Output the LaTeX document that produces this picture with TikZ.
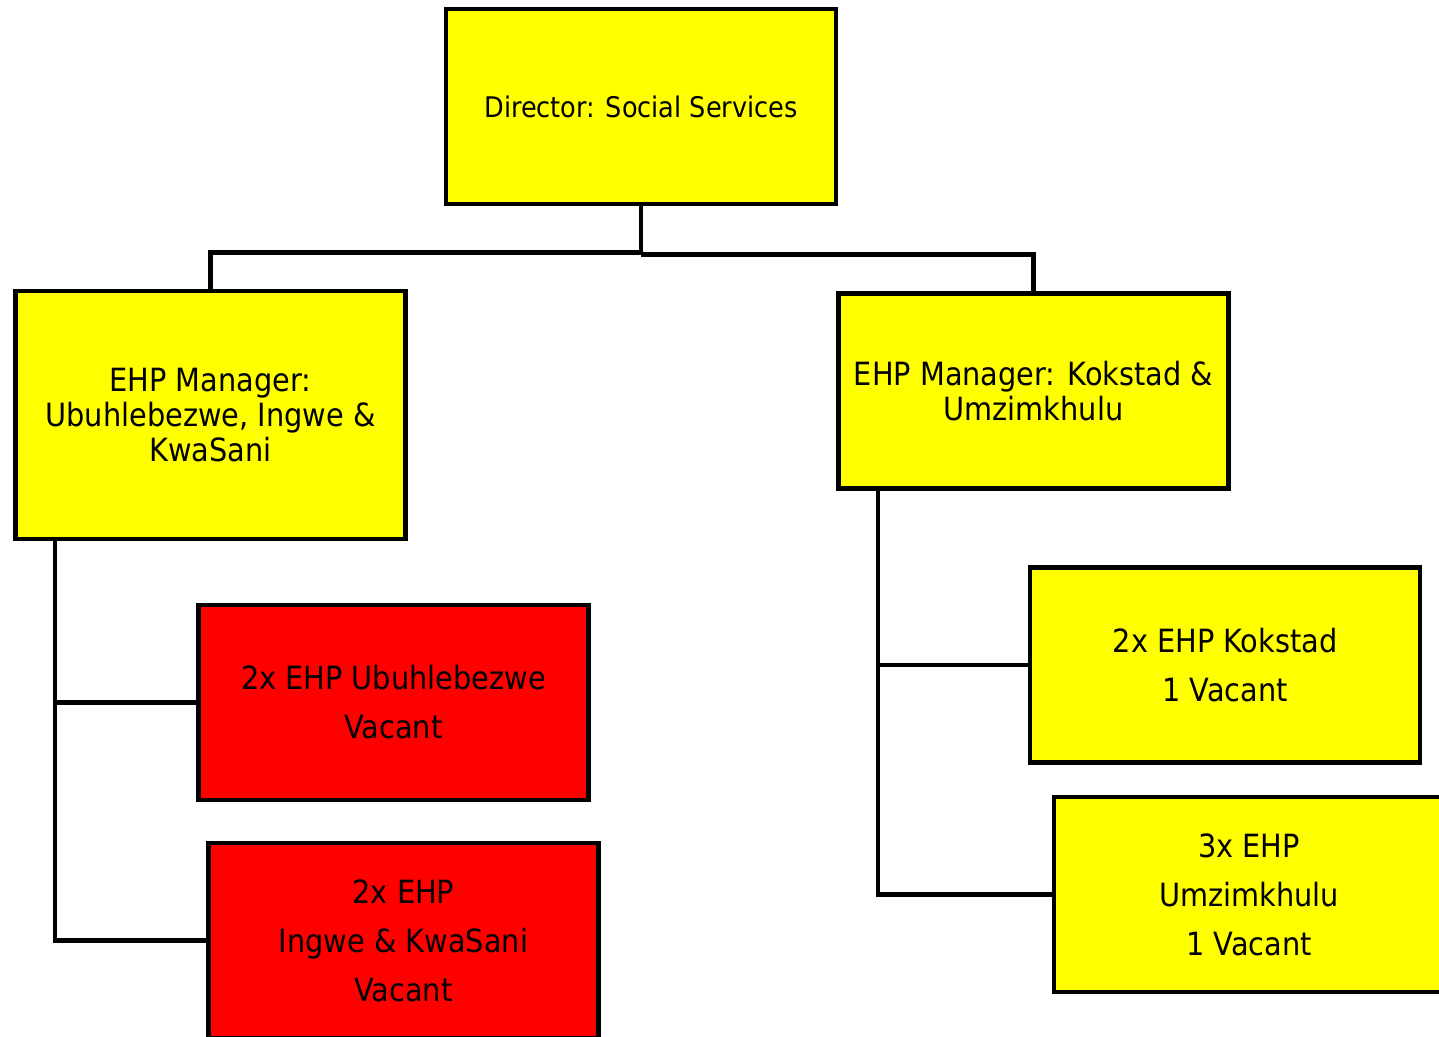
\documentclass[tikz,border=0pt]{standalone}
\usepackage{fontspec}
\setmainfont{DejaVu Sans Condensed}
\usepackage{xcolor}

\definecolor{boxyellow}{HTML}{FFFF00}
\definecolor{boxred}{HTML}{FF0000}

\begin{document}
\begin{tikzpicture}[x=0.5pt, y=-0.5pt, line width=2.3pt,
    post/.style={draw, rectangle, align=center, inner sep=0pt,
      minimum width=195pt, minimum height=97.5pt},
    head/.style={post, fill=boxyellow, font=\fontsize{16}{17.5}\selectfont},
    staff/.style={post, font=\fontsize{16}{24.5}\selectfont}]
      \useasboundingbox (0, 0) rectangle (1439, 1037);
      % top and managers
      \node[head, font=\fontsize{14.2}{17}\selectfont] (dir) at (641, 106.5) {Director: Social Services};
      \node[head, minimum height=124pt] (mgrL) at (210.5, 415)
        {EHP Manager:\\ Ubuhlebezwe, Ingwe \&\\ KwaSani};
      \node[head] (mgrR) at (1033.5, 391) {EHP Manager: Kokstad \&\\ Umzimkhulu};
      % posts under the managers
      \node[staff, fill=boxred] (ubu) at (393.5, 702.5) {2x EHP Ubuhlebezwe\\ Vacant};
      \node[staff, fill=boxred] (ingwe) at (403.5, 940.5) {2x EHP\\ Ingwe \& KwaSani\\ Vacant};
      \node[staff, fill=boxyellow] (kok) at (1225, 665) {2x EHP Kokstad\\ 1 Vacant};
      \node[staff, fill=boxyellow] (umz) at (1249, 894.5) {3x EHP\\ Umzimkhulu\\ 1 Vacant};
      % connectors
      \draw (dir.south) -- ++(0, 46) -| (mgrL.north);
      \draw (dir.south) ++(0, 48) -| (mgrR.north);
      \coordinate (spineL) at (55, 539);
      \coordinate (spineR) at (878, 488);
      \draw (spineL) |- (ubu.west);
      \draw (spineL) |- (ingwe.west);
      \draw (spineR) |- (kok.west);
      \draw (spineR) |- (umz.west);
    \end{tikzpicture}
\end{document}
